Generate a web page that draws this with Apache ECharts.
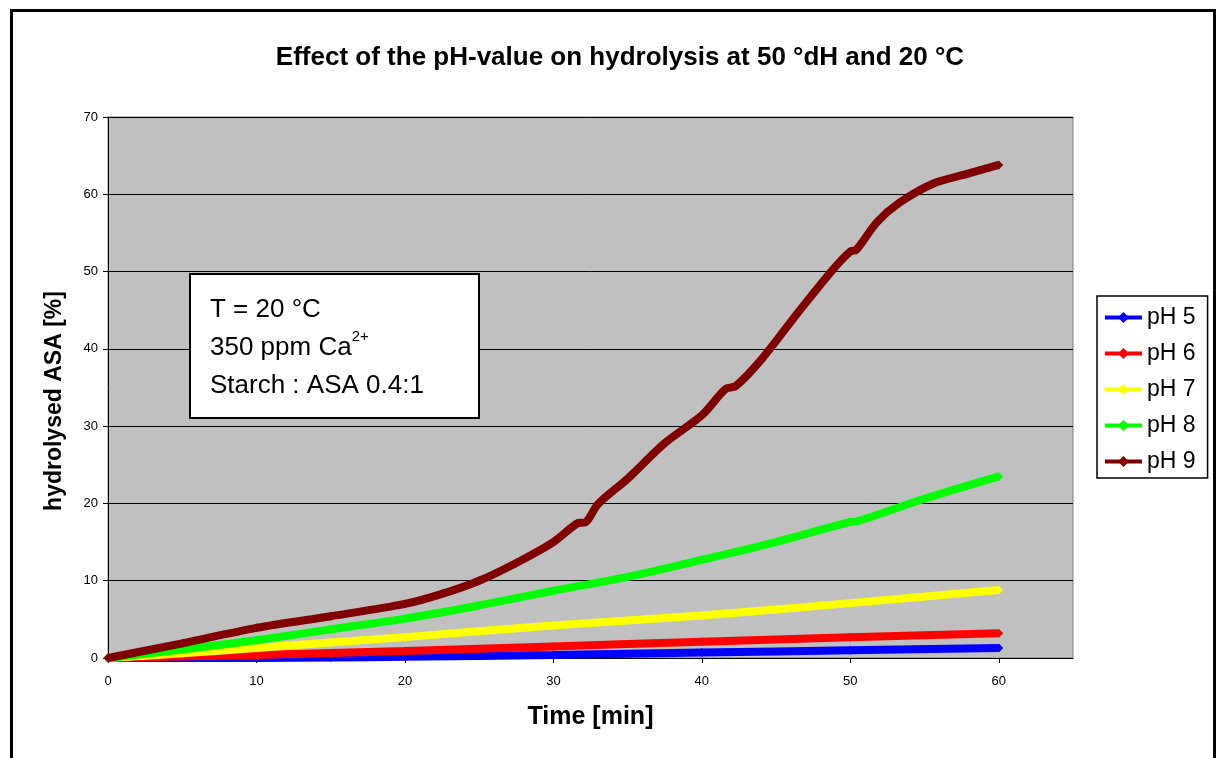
<!DOCTYPE html>
<html>
<head>
<meta charset="utf-8">
<script src="https://cdn.jsdelivr.net/npm/echarts@6/dist/echarts.min.js"></script>
<style>
	html, body { margin: 0; padding: 0; background: #fff; }
	#chart { width: 1218px; height: 758px; }
</style>
</head>
<body>
<div id="chart"></div>
<script>
// values, time in min / hydrolysed ASA in %
var seriesNames = ['pH 5', 'pH 6', 'pH 7', 'pH 8', 'pH 9'];
var seriesColors = ['#0000ff', '#ff0000', '#ffff00', '#00ff00', '#800000'];

var timePH5 = [0, 10, 15, 20, 30, 40, 50, 60];
var valPH5 = [0, 0, 0.05, 0.15, 0.4, 0.7, 1.0, 1.3];

var timePH6 = [0, 10, 20, 30, 40, 50, 60];
var valPH6 = [0, 0.4, 0.9, 1.5, 2.1, 2.7, 3.2];

var timePH7 = [0, 5, 10, 20, 30, 40, 50, 60];
var valPH7 = [0, 0.6, 1.3, 2.7, 4.2, 5.5, 7.1, 8.8];

var timePH8 = [0, 5, 10, 15, 20, 25, 30, 35, 40, 45, 50, 50.5, 55, 60];
var valPH8 = [0, 1.1, 2.3, 3.7, 5.1, 6.8, 8.7, 10.5, 12.7, 15.0, 17.6, 17.7, 20.6, 23.5];

var timePH9 = [0, 5, 10, 15, 20, 22.5, 25, 27.5, 30, 31.6, 32.2, 33, 35, 37.5, 40, 41.6, 42.3, 44, 46.6, 48.8, 50, 50.4, 51.8, 53.3, 55.6, 57.8, 60];
var valPH9 = [0, 1.9, 3.9, 5.4, 7.0, 8.3, 10.0, 12.3, 15.0, 17.4, 17.6, 19.9, 23.2, 27.8, 31.4, 34.8, 35.2, 38.6, 45.0, 50.2, 52.6, 52.8, 56.4, 58.9, 61.4, 62.6, 63.8];

var xTicks = [0, 10, 20, 30, 40, 50, 60];

var allTimes = [timePH5, timePH6, timePH7, timePH8, timePH9];
var allVals = [valPH5, valPH6, valPH7, valPH8, valPH9];

function pairs(t, v) {
	var out = [];
	for (var i = 0; i < t.length; i++) out.push([t[i], v[i]]);
	return out;
}

var font = 'Liberation Sans, Arial, sans-serif';

var series = [];
for (var k = 0; k < seriesNames.length; k++) {
	series.push({
		name: seriesNames[k],
		type: 'line',
		data: pairs(allTimes[k], allVals[k]),
		smooth: 0.3,
		symbol: 'diamond',
		symbolSize: 9,
		color: seriesColors[k],
		lineStyle: { width: 8, color: seriesColors[k] },
		itemStyle: { color: seriesColors[k] },
		clip: false,
		z: 3 + k
	});
}

var chart = echarts.init(document.getElementById('chart'));
chart.setOption({
	animation: false,
	title: {
		text: 'Effect of the pH-value on hydrolysis at 50 °dH and 20 °C',
		left: 615,
		top: 40,
		textAlign: 'center',
		textStyle: { fontFamily: font, fontSize: 26, fontWeight: 'bold', color: '#000' }
	},
	grid: {
		left: 108, top: 117, right: 145, bottom: 100,
		show: true, backgroundColor: '#c0c0c0', borderColor: '#808080', borderWidth: 1
	},
	legend: {
		orient: 'vertical',
		left: 1097, top: 296,
		padding: [10, 12, 5, 6],
		itemWidth: 37, itemHeight: 14, itemGap: 13,
		backgroundColor: '#fff', borderColor: '#000', borderWidth: 1.5, borderRadius: 0,
		lineStyle: { width: 4 },
		textStyle: { fontFamily: font, fontSize: 23, color: '#000' },
		data: seriesNames
	},
	xAxis: {
		type: 'value',
		min: 0, max: 65, interval: 10,
		name: 'Time [min]',
		nameLocation: 'middle',
		nameGap: 47,
		nameTextStyle: { fontFamily: font, fontSize: 25, fontWeight: 'bold', color: '#000' },
		axisLine: { lineStyle: { color: '#000', width: 1 } },
		axisTick: { show: true, length: 5, lineStyle: { color: '#000' } },
		axisLabel: {
			fontFamily: font, fontSize: 13, color: '#000', margin: 17,
			showMaxLabel: false,
			formatter: function (v) { return xTicks.indexOf(v) >= 0 ? String(v) : ''; }
		},
		splitLine: { show: false }
	},
	yAxis: {
		type: 'value',
		min: 0, max: 70, interval: 10,
		axisLine: { show: true, lineStyle: { color: '#000', width: 1 } },
		axisTick: { show: true, length: 5, lineStyle: { color: '#000' } },
		axisLabel: { fontFamily: font, fontSize: 13, color: '#000', margin: 10 },
		splitLine: { show: true, lineStyle: { color: '#000', width: 1 } }
	},
	graphic: [
		{
			type: 'rect',
			left: 9, top: 8,
			shape: { width: 1203, height: 800 },
			style: { fill: 'none', stroke: '#000', lineWidth: 3 },
			silent: true, z: 0
		},
		{
			type: 'text',
			x: 55, y: 401,
			rotation: Math.PI / 2,
			style: {
				text: 'hydrolysed ASA [%]',
				fontFamily: font, fontSize: 23, fontWeight: 'bold', fill: '#000',
				align: 'center', verticalAlign: 'middle'
			},
			z: 5
		},
		{
			type: 'rect',
			left: 189, top: 273,
			shape: { width: 289, height: 144 },
			style: { fill: '#fff', stroke: '#000', lineWidth: 2 },
			z: 10
		},
		{
			type: 'text',
			left: 210, top: 291,
			style: {
				text: 'T = 20 °C\n350 ppm Ca{sup|2+}\nStarch : ASA 0.4:1',
				fontFamily: font, fontSize: 26, lineHeight: 38, fill: '#000',
				rich: {
					sup: { fontFamily: font, fontSize: 15, verticalAlign: 'top', lineHeight: 30, fill: '#000' }
				}
			},
			z: 11
		}
	],
	series: series
});
</script>
</body>
</html>
